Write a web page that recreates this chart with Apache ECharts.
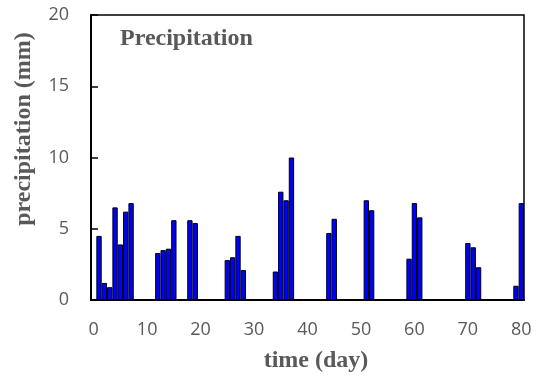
<!DOCTYPE html>
<html>
<head>
<meta charset="utf-8">
<script src="https://cdn.jsdelivr.net/npm/echarts@6/dist/echarts.min.js"></script>
<style>
  html, body { margin: 0; padding: 0; background: #fff; }
  #chart { width: 536px; height: 380px; }
</style>
</head>
<body>
<div id="chart"></div>
<script>
// days with rain and the amount (mm)
var rainDays = [1, 2, 3, 4, 5, 6, 7, 12, 13, 14, 15, 18, 19, 25, 26, 27, 28,
  34, 35, 36, 37, 44, 45, 51, 52, 59, 60, 61, 70, 71, 72, 79, 80];
var rainValues = [4.5, 1.2, 0.9, 6.5, 3.9, 6.2, 6.8, 3.3, 3.5, 3.6, 5.6, 5.6, 5.4, 2.8, 3.0, 4.5, 2.1,
  2.0, 7.6, 7.0, 10.0, 4.7, 5.7, 7.0, 6.3, 2.9, 6.8, 5.8, 4.0, 3.7, 2.3, 1.0, 6.8];
var lastDay = 80;
var yTicks = [0, 5, 10, 15, 20];

var gray = '#595959';

// one category per day, 0..80
var dayLabels = [];
var dayValues = [];
for (var d = 0; d <= lastDay; d++) {
  dayLabels.push(String(d));
  var i = rainDays.indexOf(d);
  dayValues.push(i >= 0 ? rainValues[i] : '-');
}

var myChart = echarts.init(document.getElementById('chart'));
var option = {
  animation: false,
  grid: {
    left: 91,
    right: 12,
    top: 15,
    bottom: 80,
    show: true,
    borderColor: '#000',
    borderWidth: 1.5
  },
  graphic: [
    {
      type: 'text',
      left: 120,
      top: 27,
      style: {
        text: 'Precipitation',
        fill: gray,
        font: 'bold 24px "Liberation Serif"'
      }
    },
    {
      type: 'text',
      x: 24,
      y: 129,
      rotation: Math.PI / 2,
      style: {
        text: 'precipitation (mm)',
        fill: gray,
        font: 'bold 24px "Liberation Serif"',
        textAlign: 'center',
        textVerticalAlign: 'middle'
      }
    },
    {
      type: 'text',
      x: 316,
      y: 361,
      style: {
        text: 'time (day)',
        fill: gray,
        font: 'bold 24px "Liberation Serif"',
        textAlign: 'center',
        textVerticalAlign: 'middle'
      }
    }
  ],
  xAxis: {
    type: 'category',
    data: dayLabels,
    boundaryGap: true,
    axisLine: { lineStyle: { color: '#000', width: 2 } },
    axisTick: { show: false },
    axisLabel: {
      interval: 9,
      color: gray,
      fontSize: 18,
      fontFamily: '"Open Sans"',
      margin: 21
    },
    splitLine: { show: false }
  },
  yAxis: {
    type: 'value',
    min: yTicks[0],
    max: yTicks[yTicks.length - 1],
    interval: 5,
    axisLine: { show: true, lineStyle: { color: '#000', width: 2 } },
    axisTick: { show: true, inside: true, length: 7, lineStyle: { color: '#000', width: 1.5 } },
    axisLabel: {
      color: gray,
      fontSize: 18,
      fontFamily: '"Open Sans"',
      margin: 22
    },
    splitLine: { show: false }
  },
  series: [
    {
      type: 'bar',
      data: dayValues,
      barCategoryGap: 0,
      itemStyle: {
        color: '#0000ff',
        borderColor: '#000',
        borderWidth: 1
      }
    }
  ]
};
myChart.setOption(option);
</script>
</body>
</html>
